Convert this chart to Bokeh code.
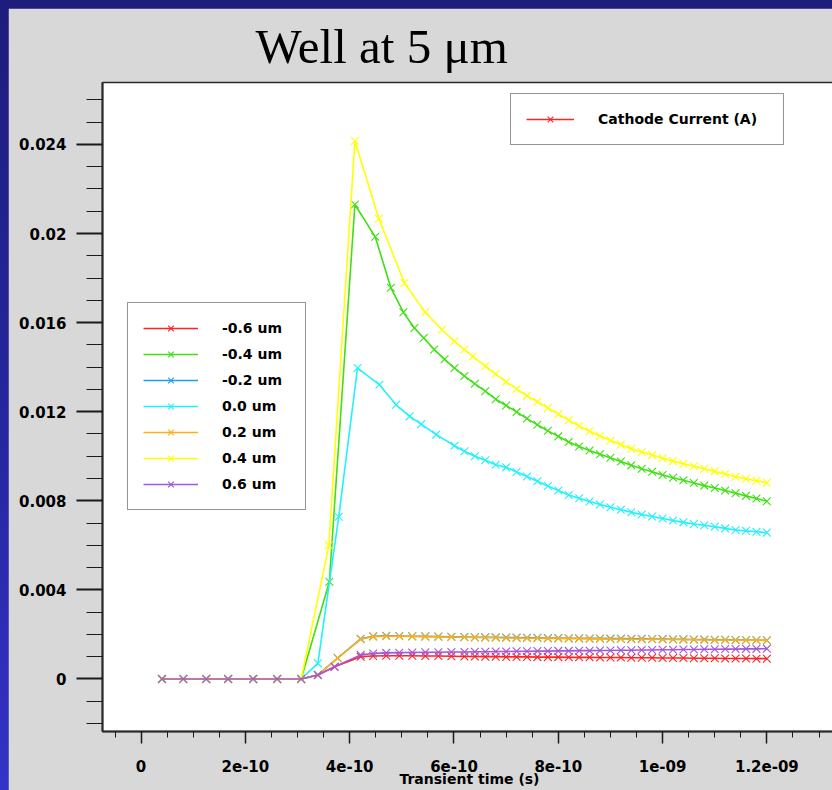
import re
import numpy as np
from bokeh.plotting import figure
from bokeh.models import (ColumnDataSource, Legend, LegendItem, FixedTicker,
                          CustomJSTickFormatter, Range1d)
from bokeh.embed import file_html
from bokeh.resources import INLINE

# ---------------- data (time in units of 1e-10 s, current in A) ----------------
t_early = [0.40, 0.81, 1.25, 1.67, 2.15, 2.61, 3.07]
i_early = [0.0, 0.0, 0.0, 0.0, 0.0, 0.0, 0.0]

t_tail = [6.6, 6.8, 7.0, 7.2, 7.4, 7.6, 7.8, 8.0, 8.2, 8.4, 8.6, 8.8, 9.0, 9.2,
          9.4, 9.6, 9.8, 10.0, 10.2, 10.4, 10.6, 10.8, 11.0, 11.2, 11.4, 11.6, 11.8, 12.0]

series_labels = ["-0.6 um", "-0.4 um", "-0.2 um", "0.0 um", "0.2 um", "0.4 um", "0.6 um"]
series_colors = ["#ff2424", "#3ee012", "#1e9ef0", "#22f0ff", "#ffb014", "#ffff00", "#a457d6"]

# -0.6 um
t_mid_m06 = [3.39, 3.71, 4.21, 4.45, 4.70, 4.95, 5.20, 5.45, 5.70, 5.95, 6.20, 6.40]
i_mid_m06 = [0.00018, 0.00055, 0.00100, 0.00103, 0.00104, 0.00104, 0.00104, 0.00103,
             0.00103, 0.00102, 0.00101, 0.00101]
i_tail_m06 = [0.00100, 0.00100, 0.00099, 0.00099, 0.00099, 0.00098, 0.00098, 0.00098,
              0.00097, 0.00097, 0.00097, 0.00096, 0.00096, 0.00096, 0.00095, 0.00095,
              0.00095, 0.00094, 0.00094, 0.00094, 0.00093, 0.00093, 0.00093, 0.00092,
              0.00092, 0.00092, 0.00091, 0.00091]
# -0.4 um
t_mid_m04 = [3.61, 4.10, 4.49, 4.79, 5.03, 5.24, 5.42, 5.62, 5.82, 6.01, 6.20, 6.40]
i_mid_m04 = [0.00436, 0.02130, 0.01985, 0.01756, 0.01646, 0.01576, 0.01531, 0.01479,
             0.01435, 0.01396, 0.01360, 0.01325]
i_tail_m04 = [0.01292, 0.01256, 0.01228, 0.01199, 0.01169, 0.01141, 0.01114, 0.01089,
              0.01064, 0.01044, 0.01026, 0.01009, 0.00993, 0.00976, 0.00959, 0.00944,
              0.00930, 0.00916, 0.00903, 0.00892, 0.00880, 0.00868, 0.00857, 0.00846,
              0.00834, 0.00822, 0.00810, 0.00798]
# -0.2 um
t_mid_m02 = [3.39, 3.77, 4.21, 4.45, 4.70, 4.95, 5.20, 5.45, 5.70, 5.95, 6.20, 6.40]
i_mid_m02 = [0.00018, 0.00094, 0.00180, 0.00192, 0.00194, 0.00193, 0.00192, 0.00191,
             0.00190, 0.00189, 0.00188, 0.00187]
i_tail_m02 = [0.00187, 0.00187, 0.00186, 0.00186, 0.00185, 0.00185, 0.00184, 0.00184,
              0.00183, 0.00183, 0.00182, 0.00182, 0.00181, 0.00181, 0.00180, 0.00180,
              0.00179, 0.00179, 0.00178, 0.00178, 0.00177, 0.00177, 0.00176, 0.00176,
              0.00175, 0.00175, 0.00174, 0.00174]
# 0.0 um
t_mid_p00 = [3.39, 3.79, 4.15, 4.57, 4.89, 5.15, 5.37, 5.66, 6.01, 6.20, 6.40]
i_mid_p00 = [0.00070, 0.00728, 0.01396, 0.01321, 0.01231, 0.01179, 0.01144, 0.01097,
             0.01047, 0.01022, 0.01000]
i_tail_p00 = [0.00982, 0.00962, 0.00950, 0.00929, 0.00909, 0.00888, 0.00866, 0.00846,
              0.00826, 0.00811, 0.00797, 0.00783, 0.00771, 0.00760, 0.00748, 0.00738,
              0.00729, 0.00720, 0.00711, 0.00703, 0.00696, 0.00690, 0.00683, 0.00676,
              0.00669, 0.00665, 0.00661, 0.00657]
# 0.2 um
t_mid_p02 = [3.39, 3.77, 4.21, 4.45, 4.70, 4.95, 5.20, 5.45, 5.70, 5.95, 6.20, 6.40]
i_mid_p02 = [0.00018, 0.00093, 0.00178, 0.00190, 0.00192, 0.00192, 0.00191, 0.00190,
             0.00189, 0.00188, 0.00187, 0.00186]
i_tail_p02 = [0.00185, 0.00185, 0.00184, 0.00184, 0.00183, 0.00183, 0.00182, 0.00182,
              0.00181, 0.00181, 0.00180, 0.00180, 0.00179, 0.00179, 0.00178, 0.00178,
              0.00178, 0.00177, 0.00177, 0.00176, 0.00176, 0.00175, 0.00175, 0.00175,
              0.00174, 0.00174, 0.00174, 0.00173]
# 0.4 um
t_mid_p04 = [3.60, 4.10, 4.56, 5.05, 5.45, 5.77, 6.01, 6.20, 6.36]
i_mid_p04 = [0.00600, 0.02415, 0.02066, 0.01778, 0.01646, 0.01568, 0.01516, 0.01479, 0.01448]
i_tail_p04 = [0.01404, 0.01369, 0.01334, 0.01302, 0.01271, 0.01245, 0.01216, 0.01189,
              0.01162, 0.01136, 0.01112, 0.01091, 0.01071, 0.01052, 0.01034, 0.01019,
              0.01005, 0.00991, 0.00978, 0.00966, 0.00955, 0.00944, 0.00932, 0.00920,
              0.00908, 0.00899, 0.00890, 0.00881]
# 0.6 um
t_mid_p06 = [3.39, 3.71, 4.21, 4.45, 4.70, 4.95, 5.20, 5.45, 5.70, 5.95, 6.20, 6.40]
i_mid_p06 = [0.00018, 0.00055, 0.00108, 0.00114, 0.00117, 0.00118, 0.00119, 0.00120,
             0.00120, 0.00121, 0.00121, 0.00122]
i_tail_p06 = [0.00122, 0.00123, 0.00123, 0.00124, 0.00124, 0.00125, 0.00125, 0.00126,
              0.00126, 0.00127, 0.00127, 0.00128, 0.00128, 0.00129, 0.00129, 0.00130,
              0.00130, 0.00131, 0.00131, 0.00132, 0.00132, 0.00133, 0.00133, 0.00134,
              0.00134, 0.00135, 0.00135, 0.00136]

mids = [(t_mid_m06, i_mid_m06, i_tail_m06), (t_mid_m04, i_mid_m04, i_tail_m04),
        (t_mid_m02, i_mid_m02, i_tail_m02), (t_mid_p00, i_mid_p00, i_tail_p00),
        (t_mid_p02, i_mid_p02, i_tail_p02), (t_mid_p04, i_mid_p04, i_tail_p04),
        (t_mid_p06, i_mid_p06, i_tail_p06)]

x_major = [0.0, 2e-10, 4e-10, 6e-10, 8e-10, 1e-9, 1.2e-9]
y_major = [0.0, 0.004, 0.008, 0.012, 0.016, 0.02, 0.024]

# ---------------- figure ----------------
TICK_FONT = "DejaVu Sans"
p = figure(width=828, height=782, output_backend="svg", toolbar_location=None,
           x_range=Range1d(-0.74e-10, 13.335e-10), y_range=Range1d(-0.00236, 0.02678),
           min_border_left=94, min_border_right=0, min_border_top=74, min_border_bottom=59)
p.background_fill_color = "white"
p.border_fill_color = "#d8d8d8"
p.outline_line_color = "#2a2a2a"
p.outline_line_width = 1.5
p.xgrid.visible = False
p.ygrid.visible = False

p.title.text = "Well at 5 \u03bcm"
p.title.text_font = "Liberation Serif"
p.title.text_font_size = "49px"
p.title.text_font_style = "normal"
p.title.text_color = "black"
p.title.align = "left"
p.title.offset = 153
p.title.standoff = 17

renderers = []
for lab, col, (tm, im, itl) in zip(series_labels, series_colors, mids):
    t = np.array(t_early + tm + t_tail) * 1e-10
    cur = np.array(i_early + im + itl)
    src = ColumnDataSource(dict(t=t, i=cur))
    lr = p.line("t", "i", source=src, line_color=col, line_width=1.6)
    sr = p.scatter("t", "i", source=src, marker="x", size=11, line_color=col, line_width=1.1)
    renderers.append((lab, lr, sr))

def style_legend(lg):
    lg.background_fill_color = "white"
    lg.background_fill_alpha = 1.0
    lg.border_line_color = "#2a2a2a"
    lg.border_line_width = 1.5
    lg.label_text_font = TICK_FONT
    lg.label_text_font_style = "bold"
    lg.label_text_font_size = "14px"
    lg.label_text_color = "black"
    lg.label_height = 20
    lg.glyph_height = 20
    lg.padding = 15
    lg.margin = 0

leg1 = Legend(items=[LegendItem(label=lab, renderers=[lr, sr]) for lab, lr, sr in renderers],
              location=(25, 221), spacing=6, glyph_width=55, label_standoff=24, label_width=68)
style_legend(leg1)
p.add_layout(leg1)

leg2 = Legend(items=[LegendItem(label="Cathode Current (A)",
                                renderers=[renderers[0][1], renderers[0][2]])],
              location=(408, 586), glyph_width=48, label_standoff=24, label_width=170)
style_legend(leg2)
p.add_layout(leg2)

# ---------------- axes ----------------
xa = p.xaxis[0]
xa.ticker = FixedTicker(ticks=x_major, minor_ticks=[k * 0.5e-10 for k in range(-1, 27)])
xa.formatter = CustomJSTickFormatter(code="""
if (Math.abs(tick) < 1e-20) { return "0"; }
const parts = tick.toExponential().split("e");
const sign = parts[1][0];
let d = parts[1].slice(1);
if (d.length < 2) { d = "0" + d; }
return parts[0] + "e" + sign + d;
""")
xa.axis_label = "Transient time (s)"
xa.axis_label_text_font = TICK_FONT
xa.axis_label_text_font_style = "bold"
xa.axis_label_text_font_size = "14px"
xa.axis_label_text_color = "black"
xa.axis_label_standoff = -4
xa.major_label_standoff = 16
xa.major_tick_out = 12
xa.major_tick_in = 0
xa.minor_tick_out = 6
xa.minor_tick_in = 0
xa.major_tick_line_width = 1.5

ya = p.yaxis[0]
ya.ticker = FixedTicker(ticks=y_major, minor_ticks=[k * 0.001 for k in range(-2, 27)])
ya.formatter = CustomJSTickFormatter(code="return String(parseFloat(tick.toFixed(6)));")
ya.major_label_standoff = 10
ya.major_tick_out = 26
ya.major_tick_in = 0
ya.minor_tick_out = 16
ya.minor_tick_in = 0
ya.major_tick_line_width = 2

for ax in (xa, ya):
    ax.axis_line_color = "#2a2a2a"
    ax.axis_line_width = 2
    ax.major_tick_line_color = "#1a1a1a"
    ax.minor_tick_line_color = "#1a1a1a"
    ax.minor_tick_line_width = 1
    ax.major_label_text_font = TICK_FONT
    ax.major_label_text_font_style = "bold"
    ax.major_label_text_font_size = "15px"
    ax.major_label_text_color = "black"

html = file_html(p, INLINE, title="Well at 5 um")
page_css = ("<style>"
            "html{background:linear-gradient(180deg,#1d1d7c 0%,#2626a0 55%,#3333c6 100%) !important;"
            "overflow:hidden;}"
            "body{margin:0 !important;padding:8px 0 0 8px !important;box-sizing:border-box;"
            "background:transparent !important;overflow:hidden;}"
            "</style>")
html = re.sub(r"</head>", page_css + "</head>", html, count=1)
with open("out.html", "w", encoding="utf-8") as f:
    f.write(html)
